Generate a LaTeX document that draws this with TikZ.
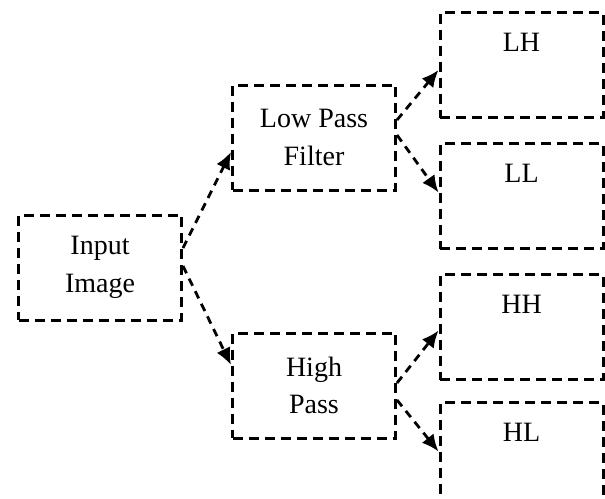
\documentclass[tikz,border=0pt]{standalone}
\usepackage{fontspec}
\setmainfont{Liberation Serif}
\usetikzlibrary{arrows.meta,positioning}

\begin{document}
\begin{tikzpicture}[
    x = 1pt, y = -1pt, % pixel units, y runs downwards
    font = \fontsize{28}{37.5}\selectfont,
    box/.style = {draw, dash pattern=on 10pt off 6pt, line width=3pt,
        minimum width=163pt, minimum height=105pt, inner sep=0pt, align=center},
    band/.style = {box, label={[anchor=north,yshift=-19pt]north:#1}},
    flow/.style = {-{Latex[length=17pt,width=15pt]},
        line width=2.8pt, dash pattern=on 8pt off 6pt}
    ]

    \useasboundingbox (0,0) rectangle (605,498);

    \node[box] (input) at (100,267.5) {Input\\Image};
    \node[box] (lowpass) [above right=22pt and 48pt of input] {Low Pass\\Filter};
    \node[box] (highpass) [below right=10pt and 48pt of input] {High\\Pass};

    \node[band=LH] (lh) at (521.5,65) {};
    \node[band=LL] (ll) [below=23pt of lh] {};
    \node[band=HH] (hh) [below=23pt of ll] {};
    \node[band=HL] (hl) [below=20pt of hh] {};

    \draw[flow] ([yshift=19.5pt]input.east) -- ([yshift=-14.5pt]lowpass.west);
    \draw[flow] ([yshift=1.5pt]input.east) -- ([yshift=20.5pt]highpass.west);
    \draw[flow] ([yshift=17.5pt]lowpass.east) -- ([yshift=-5pt]lh.west);
    \draw[flow] ([yshift=2.5pt]lowpass.east) -- ([yshift=3.5pt]ll.west);
    \draw[flow] ([yshift=2.5pt]highpass.east) -- ([yshift=-3.5pt]hh.west);
    \draw[flow] ([yshift=-14.5pt]highpass.east) -- ([yshift=3.5pt]hl.west);
\end{tikzpicture}
\end{document}
